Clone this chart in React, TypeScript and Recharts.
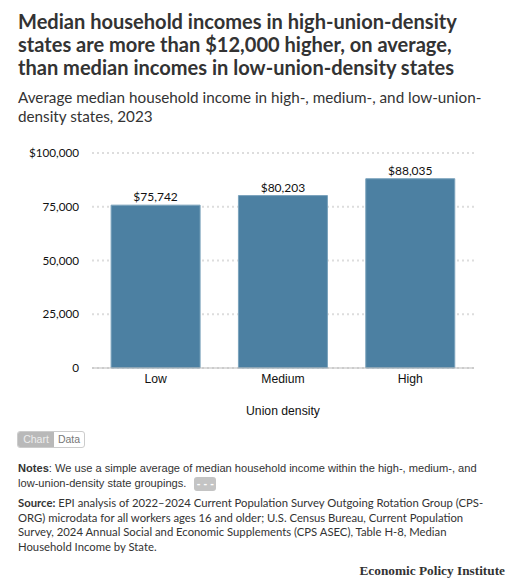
import React from "react";
import { BarChart, Bar, XAxis, YAxis, CartesianGrid, LabelList } from "recharts";

const categories = ["Low", "Medium", "High"];
const incomes = [75742, 80203, 88035];
const yTicks = [0, 25000, 50000, 75000, 100000];

const chartData = categories.map((density, i) => ({ density, income: incomes[i] }));

const money = (v: number) => `$${v.toLocaleString("en-US")}`;
const yLabel = (v: number) => (v === 100000 ? money(v) : v.toLocaleString("en-US"));

const SANS = "Lato, 'Open Sans', sans-serif";
const ARIAL = "'Liberation Sans', Arial, sans-serif";

export default function App() {
  return (
    <div style={styles.page}>
      <div style={styles.title}>
        Median household incomes in high-union-density
        <br />
        states are more than $12,000 higher, on average,
        <br />
        than median incomes in low-union-density states
      </div>
      <div style={styles.subtitle}>
        Average median household income in high-, medium-, and low-union-
        <br />
        density states, 2023
      </div>

      <div style={{ position: "absolute", left: 0, top: 131 }}>
        <BarChart
          width={509}
          height={290}
          data={chartData}
          margin={{ top: 22, right: 35, left: 0, bottom: 0 }}
          barCategoryGap="15%"
        >
          <CartesianGrid
            vertical={false}
            stroke="#dddddd"
            strokeWidth={2}
            strokeDasharray="2 3"
          />
          <XAxis
            dataKey="density"
            height={53}
            tickLine={false}
            axisLine={{ stroke: "#bbbbbb", strokeWidth: 1 }}
            tick={{ fontSize: 12.2, fill: "#111", fontFamily: ARIAL }}
            tickMargin={0}
            label={{
              value: "Union density",
              position: "insideBottom",
              offset: 6,
              fontSize: 12.2,
              fill: "#111",
              fontFamily: ARIAL,
            }}
          />
          <YAxis
            width={92}
            domain={[0, 100000]}
            ticks={yTicks}
            tickFormatter={yLabel}
            tickLine={false}
            axisLine={false}
            tickMargin={7}
            tick={{ fontSize: 11.7, fill: "#111", fontFamily: SANS }}
          />
          <Bar
            dataKey="income"
            fill="#4c80a2"
            stroke="#7ba3bd"
            strokeWidth={1}
            isAnimationActive={false}
          >
            <LabelList
              dataKey="income"
              position="top"
              formatter={money}
              offset={4}
              style={{ fontSize: 12, fill: "#111", fontFamily: SANS }}
            />
          </Bar>
        </BarChart>
      </div>

      <div style={styles.toggle}>
        <span style={styles.toggleOn}>Chart</span>
        <span style={styles.toggleOff}>Data</span>
      </div>

      <div style={styles.notes}>
        <b>Notes</b>: We use a simple average of median household income within the high-, medium-, and
        <br />
        low-union-density state groupings.
        <span style={styles.more}>- - -</span>
      </div>

      <div style={styles.source}>
        <b>Source:</b> EPI analysis of 2022–2024 Current Population Survey Outgoing Rotation Group (CPS-
        <br />
        ORG) microdata for all workers ages 16 and older; U.S. Census Bureau, Current Population
        <br />
        Survey, 2024 Annual Social and Economic Supplements (CPS ASEC), Table H-8, Median
        <br />
        Household Income by State.
      </div>

      <div style={styles.brand}>Economic Policy Institute</div>
    </div>
  );
}

const styles = {
  page: {
    position: "absolute",
    left: 0,
    top: 0,
    width: 509,
    height: 585,
    background: "#fff",
    overflow: "hidden",
    fontFamily: SANS,
  } as React.CSSProperties,

  title: {
    position: "absolute",
    left: 18,
    top: 10,
    fontSize: 20.06,
    lineHeight: "23px",
    fontWeight: 700,
    color: "#333",
    whiteSpace: "nowrap",
  } as React.CSSProperties,

  subtitle: {
    position: "absolute",
    left: 18,
    top: 88,
    fontSize: 15.25,
    lineHeight: "18.5px",
    color: "#333",
    whiteSpace: "nowrap",
  } as React.CSSProperties,

  toggle: {
    position: "absolute",
    left: 17,
    top: 431,
    height: 17,
    width: 68,
    display: "flex",
    fontFamily: ARIAL,
    fontSize: 10.5,
    lineHeight: "17px",
    border: "1px solid #ccc",
    borderRadius: 3,
    overflow: "hidden",
    boxSizing: "border-box",
  } as React.CSSProperties,

  toggleOn: {
    width: 36,
    textAlign: "center",
    background: "#b9b9b9",
    color: "#eee",
    lineHeight: "15px",
  } as React.CSSProperties,

  toggleOff: {
    flex: 1,
    textAlign: "center",
    color: "#777",
    lineHeight: "15px",
  } as React.CSSProperties,

  notes: {
    position: "absolute",
    left: 18,
    top: 461,
    fontFamily: ARIAL,
    fontSize: 11.1,
    lineHeight: "15px",
    color: "#333",
    whiteSpace: "nowrap",
  } as React.CSSProperties,

  more: {
    display: "inline-block",
    marginLeft: 8,
    width: 22,
    height: 14,
    lineHeight: "13px",
    borderRadius: 3,
    background: "#c4c4c4",
    color: "#fff",
    fontSize: 11,
    fontWeight: 700,
    textAlign: "center",
    verticalAlign: "middle",
  } as React.CSSProperties,

  source: {
    position: "absolute",
    left: 18,
    top: 496,
    fontFamily: SANS,
    fontSize: 11.3,
    lineHeight: "14.7px",
    color: "#333",
    whiteSpace: "nowrap",
  } as React.CSSProperties,

  brand: {
    position: "absolute",
    right: 4,
    top: 563,
    fontFamily: "'Liberation Serif', serif",
    fontSize: 13.3,
    fontWeight: 700,
    color: "#333",
    whiteSpace: "nowrap",
  } as React.CSSProperties,
};
